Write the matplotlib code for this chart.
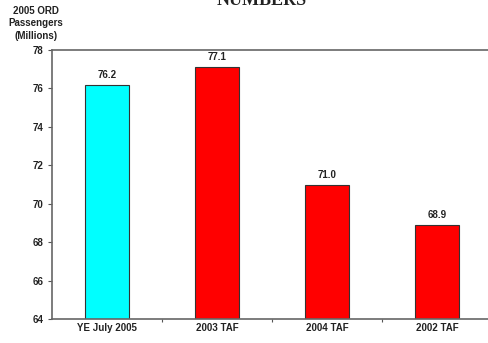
import matplotlib.pyplot as plt

categories = ['YE July 2005', '2003 TAF', '2004 TAF', '2002 TAF']
values = [76.2, 77.1, 71.0, 68.9]
labels = ['76.2', '77.1', '71.0', '68.9']
colors = ['#00FFFF', '#FF0000', '#FF0000', '#FF0000']

plt.rcParams['font.family'] = ['Liberation Sans', 'DejaVu Sans']

fig = plt.figure(figsize=(4.89, 3.43), dpi=100)
ax = fig.add_axes([52 / 489, 1 - 319 / 343, 440 / 489, 269 / 343])

x = range(len(categories))
ax.bar(x, [v - 64 for v in values], bottom=64, width=0.4, color=colors,
       edgecolor='#333333', linewidth=0.8)
for i, (v, lab) in enumerate(zip(values, labels)):
    ax.text(i, v + 0.25, lab, ha='center', va='bottom', fontsize=7,
            fontweight='bold', color='#222222')

ax.set_xlim(-0.5, 3.5)
ax.set_ylim(64, 78)
ax.set_yticks(range(64, 79, 2))
ax.tick_params(axis='y', labelsize=7, direction='out', length=3, width=0.8,
               colors='#555555', labelcolor='#222222', pad=3)
for t in ax.get_yticklabels():
    t.set_fontweight('bold')
ax.set_xticks(list(x))
ax.set_xticklabels(categories, fontsize=7, fontweight='bold', color='#222222')
ax.tick_params(axis='x', length=0, pad=3)
ax.set_xticks([0.5, 1.5, 2.5], minor=True)
ax.tick_params(axis='x', which='minor', length=2, width=0.8, colors='#555555')

ax.spines['right'].set_visible(False)
for s in ['left', 'bottom', 'top']:
    ax.spines[s].set_color('#666666')
    ax.spines[s].set_linewidth(1.2)

fig.text(36 / 489, 1 - 6 / 343, '2005 ORD\nPassengers\n(Millions)', ha='center',
         va='top', fontsize=7, fontweight='bold', color='#222222',
         linespacing=1.3)
fig.text(262 / 489, 1 - 5 / 343, 'NUMBERS', ha='center', va='baseline',
         fontsize=13, fontweight='bold', family='Liberation Serif',
         color='#222222')

fig.savefig('out.png', dpi=100)
